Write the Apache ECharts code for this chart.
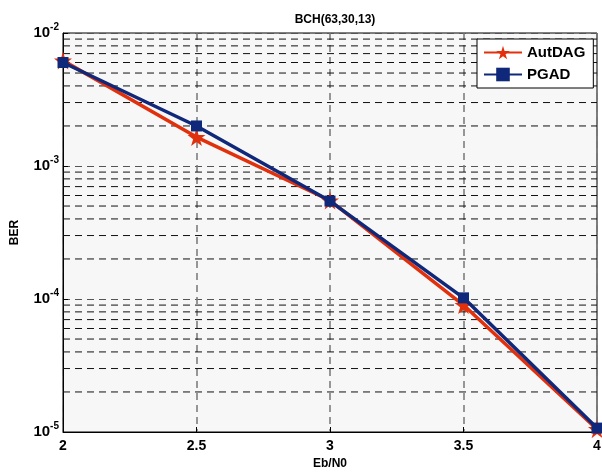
<!DOCTYPE html>
<html>
<head>
<meta charset="utf-8">
<script src="https://cdn.jsdelivr.net/npm/echarts@6/dist/echarts.min.js"></script>
<style>
  html, body { margin: 0; padding: 0; background: #fff; }
  #main { width: 602px; height: 473px; }
</style>
</head>
<body>
<div id="main"></div>
<script>
// Eb/N0 points and BER
var ebn0 = [2, 2.5, 3, 3.5, 4];
var berAutDAG = [6.2e-3, 1.65e-3, 5.5e-4, 9.0e-5, 1.05e-5];
var berPGAD = [6.0e-3, 2.0e-3, 5.45e-4, 1.02e-4, 1.07e-5];
var xTicks = [2, 2.5, 3, 3.5, 4];
// minor log grid (2..9 in every decade)
var minorGrid = [
  2e-5, 3e-5, 4e-5, 5e-5, 6e-5, 7e-5, 8e-5, 9e-5,
  2e-4, 3e-4, 4e-4, 5e-4, 6e-4, 7e-4, 8e-4, 9e-4,
  2e-3, 3e-3, 4e-3, 5e-3, 6e-3, 7e-3, 8e-3, 9e-3
];

var starPath = "path://M50,0 L61,35 L98,35 L68,57 L79,91 L50,70 L21,91 L32,57 L2,35 L39,35 Z";
var FONT = "Liberation Sans, Arial, sans-serif";

function pairs(ys) {
  return ebn0.map(function (x, i) { return [x, ys[i]]; });
}

// one dashed horizontal series per minor grid value
var gridSeries = minorGrid.map(function (v) {
  return {
    type: "line",
    data: [[2, v], [4, v]],
    symbol: "none",
    silent: true,
    z: 1,
    lineStyle: { color: "#111", width: 1, type: [7, 5] }
  };
});

var chart = echarts.init(document.getElementById("main"));
chart.setOption({
  animation: false,
  title: {
    text: "BCH(63,30,13)",
    left: 330,
    textAlign: "center",
    top: 9,
    textStyle: { fontFamily: FONT, fontSize: 12, fontWeight: "bold", color: "#000" }
  },
  grid: {
    left: 63,
    right: 5,
    top: 33,
    bottom: 41,
    outerBoundsMode: "none",
    show: true,
    backgroundColor: "#f7f7f7",
    borderColor: "#000",
    borderWidth: 1
  },
  legend: {
    data: ["AutDAG", "PGAD"],
    orient: "vertical",
    left: 477,
    top: 39,
    padding: [6, 8, 6, 6],
    itemGap: 7,
    itemWidth: 38,
    itemHeight: 17,
    backgroundColor: "#fff",
    borderColor: "#000",
    borderWidth: 1,
    textStyle: { fontFamily: FONT, fontSize: 15, fontWeight: "bold", color: "#000" }
  },
  xAxis: {
    type: "value",
    min: 2,
    max: 4,
    interval: 0.5,
    name: "Eb/N0",
    nameLocation: "middle",
    nameGap: 26,
    nameTextStyle: { fontFamily: FONT, fontSize: 12, fontWeight: "bold", color: "#000" },
    axisLine: { lineStyle: { color: "#000", width: 1 } },
    axisTick: { inside: true, length: 5, lineStyle: { color: "#000" } },
    axisLabel: {
      margin: 7,
      fontFamily: FONT, fontSize: 14, fontWeight: "bold", color: "#000",
      formatter: function (v) { return xTicks.indexOf(v) >= 0 ? String(v) : ""; }
    },
    splitLine: { show: true, lineStyle: { color: "#777", width: 1.5, type: [7, 5] } }
  },
  yAxis: {
    type: "log",
    logBase: 10,
    min: 1e-5,
    max: 1e-2,
    name: "BER",
    nameLocation: "middle",
    nameGap: 42,
    nameTextStyle: { fontFamily: FONT, fontSize: 12, fontWeight: "bold", color: "#000" },
    axisLine: { lineStyle: { color: "#000", width: 1 } },
    axisTick: { inside: true, length: 5, lineStyle: { color: "#000" } },
    axisLabel: {
      margin: 4,
      formatter: function (v) {
        var e = Math.round(Math.log(v) / Math.LN10);
        return "{b|10}{s|" + e + "}";
      },
      rich: {
        b: { fontFamily: FONT, fontSize: 15, fontWeight: "bold", color: "#000" },
        s: { fontFamily: FONT, fontSize: 10, fontWeight: "bold", color: "#000", padding: [0, 0, 12, 0] }
      }
    },
    splitLine: { show: true, lineStyle: { color: "#555", width: 1, type: [7, 5] } }
  },
  series: gridSeries.concat([
    {
      name: "AutDAG",
      type: "line",
      data: pairs(berAutDAG),
      symbol: starPath,
      symbolSize: 18,
      z: 3,
      lineStyle: { color: "#e1300c", width: 3.5 },
      itemStyle: { color: "#e1300c" }
    },
    {
      name: "PGAD",
      type: "line",
      data: pairs(berPGAD),
      symbol: "rect",
      symbolSize: 11,
      z: 4,
      lineStyle: { color: "#10287a", width: 3.5 },
      itemStyle: { color: "#10287a" }
    }
  ])
});
</script>
</body>
</html>
